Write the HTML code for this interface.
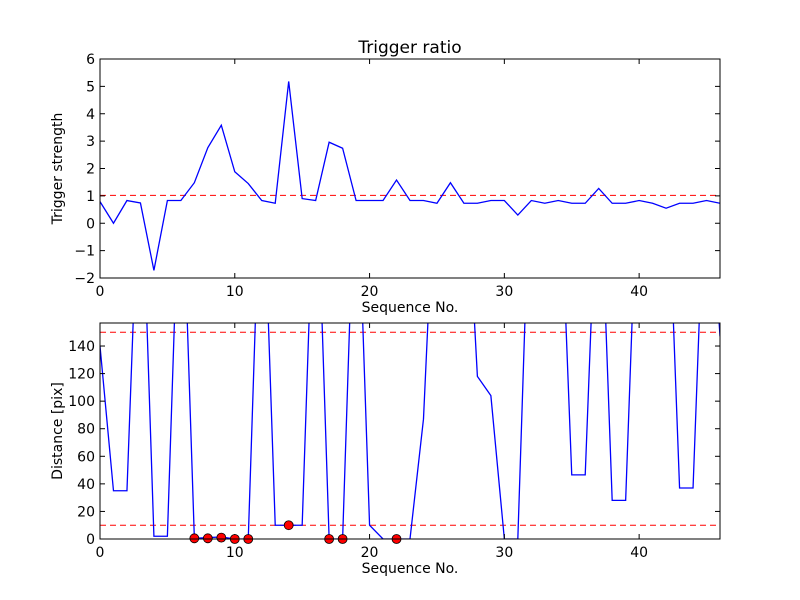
<!DOCTYPE html>
<html><head><meta charset="utf-8"><style>
body{margin:0;background:#fff;}
svg{display:block;font-family:"DejaVu Sans","Liberation Sans",sans-serif;}
</style></head><body>
<svg id="chart" width="800" height="600" xmlns="http://www.w3.org/2000/svg">
<rect width="800" height="600" fill="#fff"/>
</svg>
<script>
const seq = [];
for (let i = 0; i <= 46; i++) seq.push(i);
const strength = [0.79,0,0.83,0.74,-1.72,0.83,0.83,1.48,2.76,3.58,1.88,1.45,0.83,0.73,5.18,0.9,0.83,2.96,2.74,0.83,0.83,0.83,1.58,0.83,0.83,0.73,1.48,0.73,0.73,0.83,0.83,0.3,0.83,0.73,0.83,0.73,0.73,1.27,0.73,0.73,0.83,0.73,0.55,0.73,0.73,0.83,0.73];
const strengthThreshold = 1.02;
const distance = [140,35,35,300,2,2,300,0.5,1,1.5,0,0,300,10,10,10,300,0,0,300,10,0,0,0,87,300,300,300,118,104,0,0,300,300,300,46.5,46.5,300,28,28,300,300,300,37,37,300,147];
const markerIdx = [7,8,9,10,11,14,17,18,22];
const markerDist = [0.5,0.5,1,0,0,10,0,0,0];
const distLines = [150,10];
const topYTicks = [-2,-1,0,1,2,3,4,5,6];
const botYTicks = [0,20,40,60,80,100,120,140];
const xTicks = [0,10,20,30,40];

const svg = document.getElementById('chart');
const NS = 'http://www.w3.org/2000/svg';
function mk(tag, attrs, parent) {
  const e = document.createElementNS(NS, tag);
  for (const k in attrs) e.setAttribute(k, attrs[k]);
  (parent || svg).appendChild(e);
  return e;
}
const L = 100, R = 720;
const xs = v => L + (v - 0) / 46 * (R - L);

function panel(name, top, bot, ymin, ymax, yTicks, ylabel) {
  const ys = v => bot - (v - ymin) / (ymax - ymin) * (bot - top);
  const g = mk('g', {});
  
  
  const cid = name + '-clip';
  const cp = mk('clipPath', {id: cid}, g);
  mk('rect', {x: L, y: top, width: R - L, height: bot - top}, cp);
  const plot = mk('g', {'clip-path': 'url(#' + cid + ')'}, g);
  // x ticks
  xTicks.forEach(t => {
    const x = xs(t);
    mk('line', {x1: x, x2: x, y1: bot, y2: bot - 5, stroke: '#000'}, g);
    mk('line', {x1: x, x2: x, y1: top, y2: top + 5, stroke: '#000'}, g);
    const tx = mk('text', {x: x, y: bot + 18, 'text-anchor': 'middle', 'font-size': 14}, g);
    tx.textContent = t;
    
    
  });
  yTicks.forEach(t => {
    const y = ys(t);
    mk('line', {x1: L, x2: L + 5, y1: y, y2: y, stroke: '#000'}, g);
    mk('line', {x1: R, x2: R - 5, y1: y, y2: y, stroke: '#000'}, g);
    const tx = mk('text', {x: L - 5, y: y + 5, 'text-anchor': 'end', 'font-size': 14}, g);
    tx.textContent = t < 0 ? '\u2212' + (-t) : t;
    
    
  });
  const xl = mk('text', {x: (L + R) / 2, y: bot + 34, 'text-anchor': 'middle', 'font-size': 14}, g);
  xl.textContent = 'Sequence No.';
  
  
  const yl = mk('text', {x: 0, y: 0, 'text-anchor': 'middle', 'font-size': 14, transform: 'translate(' + (L - 38) + ',' + ((top + bot) / 2) + ') rotate(-90)'}, g);
  yl.textContent = ylabel;
  
  
  return {g, plot, ys, top, bot};
}

// Top panel
const p1 = panel('trigger-strength-panel', 59, 278, -2, 6, topYTicks, 'Trigger strength');
const th = mk('line', {x1: L, x2: R, y1: p1.ys(strengthThreshold), y2: p1.ys(strengthThreshold), stroke: '#f00', 'stroke-dasharray': '6,4'}, p1.plot);


const line1 = mk('polyline', {points: seq.map((s, i) => xs(s) + ',' + p1.ys(strength[i])).join(' '), fill: 'none', stroke: '#00f', 'stroke-width': 1.3}, p1.plot);


mk('rect', {x: L, y: 59, width: R - L, height: 219, fill: 'none', stroke: '#000'}, p1.g);
const title = mk('text', {x: (L + R) / 2, y: 53, 'text-anchor': 'middle', 'font-size': 17});
title.textContent = 'Trigger ratio';



// Bottom panel
const p2 = panel('distance-panel', 323, 539, 0, 156.7, botYTicks, 'Distance [pix]');
distLines.forEach(v => {
  const l = mk('line', {x1: L, x2: R, y1: p2.ys(v), y2: p2.ys(v), stroke: '#f00', 'stroke-dasharray': '6,4'}, p2.plot);
  
  
});
const line2 = mk('polyline', {points: seq.map((s, i) => xs(s) + ',' + p2.ys(distance[i])).join(' '), fill: 'none', stroke: '#00f', 'stroke-width': 1.3}, p2.plot);


markerIdx.forEach((s, i) => {
  const c = mk('circle', {cx: xs(s), cy: p2.ys(markerDist[i]), r: 4.5, fill: '#f00', stroke: '#000', 'stroke-width': 0.8}, p2.g);
  
  
});
mk('rect', {x: L, y: 323, width: R - L, height: 216, fill: 'none', stroke: '#000'}, p2.g);
</script>
</body></html>
